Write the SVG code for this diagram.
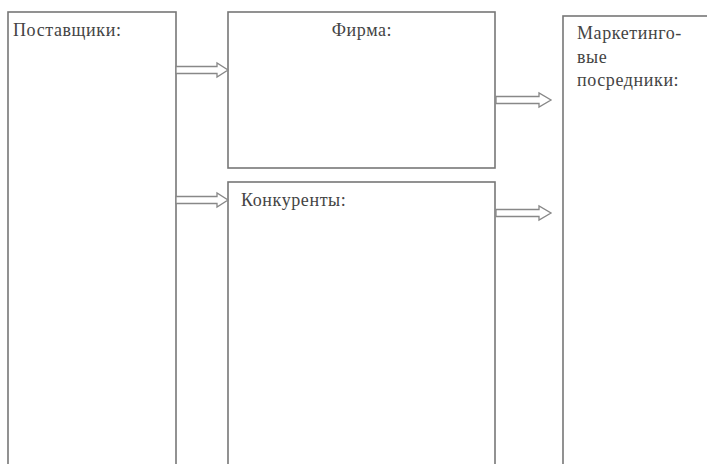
<svg xmlns="http://www.w3.org/2000/svg" width="707" height="464" viewBox="0 0 707 464">
<style>
.box{fill:#fff;stroke:#777;stroke-width:1.6}
.arr{fill:#fff;stroke:#888;stroke-width:1.3}
text{font-family:"Liberation Serif","Times New Roman",serif;font-size:18px;letter-spacing:0.6px;fill:#444}
</style>
<rect width="707" height="464" fill="#fff"/>
<g id="suppliers"><rect class="box" x="8" y="12" width="168" height="470"/><text x="13" y="36">Поставщики:</text></g>
<g id="firm"><rect class="box" x="228" y="12" width="267" height="156"/><text x="362" y="36" text-anchor="middle">Фирма:</text></g>
<g id="competitors"><rect class="box" x="228" y="182" width="267" height="300"/><text x="241" y="206">Конкуренты:</text></g>
<g id="marketing"><rect class="box" x="563" y="16" width="160" height="470"/><text x="577" y="39">Маркетинго-</text><text x="577" y="63">вые</text><text x="577" y="86">посредники:</text></g>
<g id="connectors">
<polygon class="arr" points="176,66.5 217,66.5 217,63 228,70 217,77 217,73.5 176,73.5"/>
<polygon class="arr" points="176,196.5 217,196.5 217,193 228,200 217,207 217,203.5 176,203.5"/>
<polygon class="arr" points="496,96.5 539,96.5 539,93 551,100 539,107 539,103.5 496,103.5"/>
<polygon class="arr" points="496,209.5 539,209.5 539,206 551,213 539,220 539,216.5 496,216.5"/>
</g>
</svg>
